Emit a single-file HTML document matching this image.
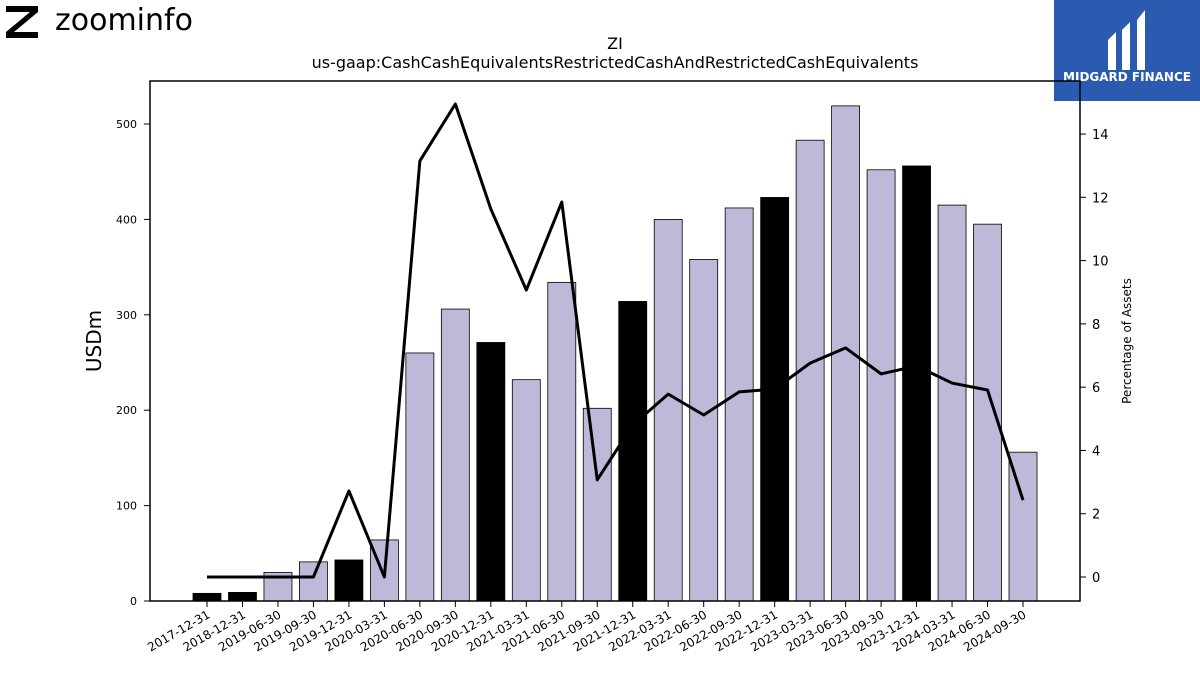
<!DOCTYPE html>
<html><head><meta charset="utf-8"><style>
body{margin:0;background:#fff;font-family:"Liberation Sans","DejaVu Sans",sans-serif}
svg text{font-family:"DejaVu Sans","Liberation Sans",sans-serif}
</style></head><body>
<svg id="c" width="1200" height="675" xmlns="http://www.w3.org/2000/svg">
<g>
<path d="M6 6h32v6L14 32h24v6H6v-6L30 12H6z" fill="#000"/>
<text x="55" y="30" font-size="30" font-family="Liberation Sans" fill="#000">zoominfo</text>
</g>
<g>
<rect x="1054" y="0" width="146" height="101" fill="#2b5bb0"/>
<path d="M1108 40l8-8v38l-8 0z M1122 30l8-8v48h-8z M1137 20l8-10v60h-8z" fill="#fff"/>
<text x="1127" y="81" font-size="12" font-weight="bold" fill="#fff" text-anchor="middle">MIDGARD FINANCE</text>
</g>
<text x="615" y="49" font-size="16" text-anchor="middle">ZI</text>
<text x="615" y="68" font-size="16" text-anchor="middle">us-gaap:CashCashEquivalentsRestrictedCashAndRestrictedCashEquivalents</text>
<g id="plot"></g>
<rect x="150" y="81" width="930" height="520" fill="none" stroke="#000" stroke-width="1.5"/>
<text transform="translate(101,341) rotate(-90)" font-size="20" text-anchor="middle">USDm</text>
<text transform="translate(1131,341) rotate(-90)" font-size="12" text-anchor="middle">Percentage of Assets</text>
</svg>
<script>
const categories=["2017-12-31","2018-12-31","2019-06-30","2019-09-30","2019-12-31","2020-03-31","2020-06-30","2020-09-30","2020-12-31","2021-03-31","2021-06-30","2021-09-30","2021-12-31","2022-03-31","2022-06-30","2022-09-30","2022-12-31","2023-03-31","2023-06-30","2023-09-30","2023-12-31","2024-03-31","2024-06-30","2024-09-30"];
const cashValues=[8,9,30,41,43,64,260,306,271,232,334,202,314,400,358,412,423,483,519,452,456,415,395,156];
const pctValues=[0,0,0,0,2.72,0,13.15,14.95,11.63,9.07,11.85,3.07,4.8,5.78,5.12,5.85,5.94,6.76,7.24,6.42,6.67,6.13,5.91,2.43];
const leftTicks=[0,100,200,300,400,500];
const rightTicks=[0,2,4,6,8,10,12,14];
</script>
<script>
const NS="http://www.w3.org/2000/svg",g=document.getElementById('plot');
function mk(t,a){const e=document.createElementNS(NS,t);for(const k in a)e.setAttribute(k,a[k]);g.appendChild(e);return e;}
const n=categories.length;
const x=i=>207+i*(1023-207)/(n-1);
const yL=v=>601-v*0.954;
const yR=v=>577-v*31.64;
leftTicks.forEach(v=>{const l=mk('line',{x1:144,x2:150,y1:yL(v),y2:yL(v),stroke:'#000'});

const t=mk('text',{x:137,y:yL(v)+4,'font-size':11,'text-anchor':'end'});t.textContent=v;
});
rightTicks.forEach(v=>{const l=mk('line',{x1:1080,x2:1086,y1:yR(v),y2:yR(v),stroke:'#000'});

const t=mk('text',{x:1092,y:yR(v)+5,'font-size':13});t.textContent=v;
});
categories.forEach((c,i)=>{const black=c.endsWith('12-31');
const r=mk('rect',{x:x(i)-14,y:yL(cashValues[i]),width:28,height:601-yL(cashValues[i]),fill:black?'#000':'#bdbad9',stroke:'#000','stroke-width':0.8});

const l=mk('line',{x1:x(i),x2:x(i),y1:601,y2:607,stroke:'#000'});

const t=mk('text',{transform:`translate(${x(i)+4},${617}) rotate(-30)`,'font-size':12,'text-anchor':'end'});t.textContent=c;
});
const p=mk('polyline',{points:pctValues.map((v,i)=>x(i)+','+yR(v)).join(' '),fill:'none',stroke:'#000','stroke-width':3,'stroke-linejoin':'round'});

</script>
</body></html>
